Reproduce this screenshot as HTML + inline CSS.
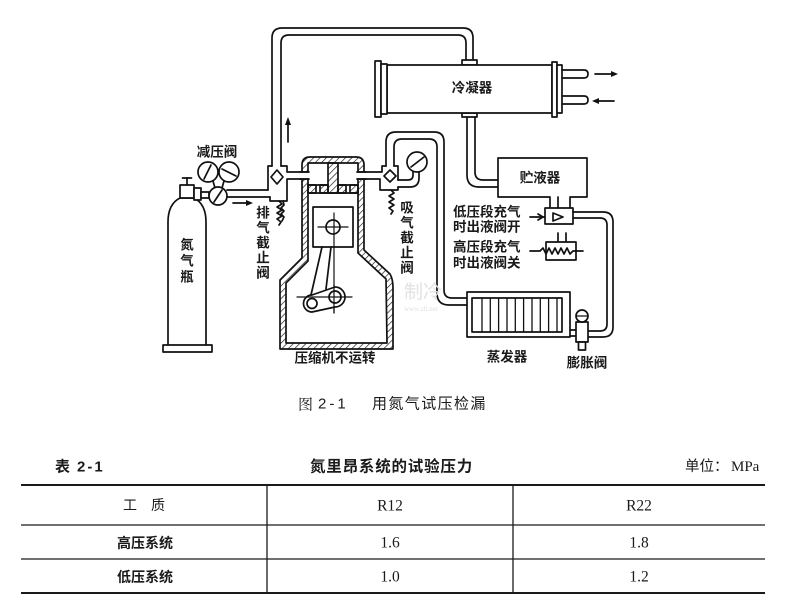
<!DOCTYPE html>
<html><head><meta charset="utf-8">
<style>
html,body{margin:0;padding:0;background:#fff;}
svg{display:block;}
.lb{font-family:"Liberation Sans","Noto Sans CJK SC",sans-serif;font-size:13.5px;font-weight:bold;fill:#1a1a1a;}
.cap{font-family:"Liberation Sans","Noto Sans CJK SC",sans-serif;font-size:15px;fill:#1a1a1a;}
.cell{font-family:"Liberation Sans","Noto Sans CJK SC",sans-serif;font-size:14px;fill:#1a1a1a;}
.num{font-family:"Liberation Serif","Noto Serif CJK SC",serif;font-size:15.5px;fill:#1a1a1a;}
</style></head>
<body>
<svg width="800" height="604" viewBox="0 0 800 604" xmlns="http://www.w3.org/2000/svg">
<defs>
<pattern id="h" width="4.5" height="4.5" patternUnits="userSpaceOnUse" patternTransform="rotate(45)">
<line x1="0" y1="0" x2="0" y2="4.5" stroke="#111" stroke-width="1.3"/>
</pattern>
</defs>
<rect width="800" height="604" fill="#fff"/>

<g fill="none" stroke="#111" stroke-width="1.7" stroke-linecap="round" stroke-linejoin="round">
<!-- Nitrogen cylinder -->
<path d="M168,345 V222 Q168,204 180,198 H194 Q206,204 206,222 V345" fill="#fff"/>
<rect x="163" y="345" width="49" height="7" fill="#fff"/>
<rect x="180" y="185" width="14" height="13" fill="#fff"/>
<line x1="187" y1="185" x2="187" y2="178"/>
<line x1="182.5" y1="178" x2="191.5" y2="178"/>
<rect x="194" y="188" width="7" height="12" fill="#fff"/>
<rect x="201" y="192" width="8" height="6" fill="#fff"/>
<!-- regulator + gauges -->
<line x1="213" y1="181" x2="215" y2="188"/>
<line x1="224" y1="181" x2="222" y2="188"/>
<circle cx="208" cy="172" r="10" fill="#fff"/>
<circle cx="229" cy="172" r="10" fill="#fff"/>
<circle cx="218" cy="196" r="9" fill="#fff"/>
<line x1="204" y1="179" x2="211" y2="165"/>
<line x1="222" y1="169" x2="236" y2="176"/>
<line x1="214" y1="202" x2="222" y2="190"/>
<!-- pipe regulator -> discharge valve -->
<line x1="227" y1="190" x2="268" y2="190"/>
<line x1="227" y1="197" x2="270" y2="197"/>
<line x1="233" y1="203" x2="247" y2="203"/>

<!-- discharge top pipe to condenser -->
<path d="M272,166 V38 Q272,28 282,28 H463 Q473,28 473,38 V60"/>
<path d="M281,166 V43 Q281,35 289,35 H458 Q466,35 466,43 V60"/>
<line x1="288" y1="142" x2="288" y2="123"/>

<!-- discharge valve body -->
<path d="M272,166 H268 V190"/>
<path d="M270,197 V201 H287 V179 H308"/>
<path d="M281,166 H287 V172 H308"/>
<polygon points="277,170 283,177 277,184 271,177" fill="#fff"/>
<path d="M279,201 l3,3 -5,3 5,3 -5,3 5,3 -5,3 4,3 -2,3"/>
<path d="M283,201 l1,4 -3,3 3,3 -3,3 3,3 -2,4"/>

<!-- suction loop -->
<path d="M386,166 V142 Q386,132 396,132 H434 Q444,132 444,142 V290 Q444,298 452,298 H467"/>
<path d="M394,166 V147 Q394,139 402,139 H429 Q437,139 437,147 V293 Q437,305 449,305 H467"/>

<!-- suction valve body -->
<path d="M386,166 H382 V172 H358"/>
<path d="M358,179 H380 V190 H398 V187"/>
<path d="M394,166 H398 V180"/>
<path d="M398,180 H408 Q413,180 413,175 V172"/>
<path d="M398,187 H410 Q419,187 419,178 V172"/>
<polygon points="390,170 396,176 390,182 384,176" fill="#fff"/>
<path d="M391,190 l3,3 -5,3 5,3 -5,3 5,3 -5,3 4,3 -2,3"/>
<circle cx="417" cy="162" r="10" fill="#fff"/>
<line x1="411" y1="167" x2="424" y2="157"/>

<!-- compressor walls -->
<path fill="url(#h)" fill-rule="evenodd" d="M302,165 Q302,157 310,157 L356,157 Q364,157 364,165 L364,250 L390,274 Q393,279 393,288 L393,349 L280,349 L280,280 L302,258 Z M308,163 L358,163 L358,253 L386,279 L387,343 L286,343 L286,283 L308,261 Z"/>
<rect x="328" y="163" width="10" height="30" fill="url(#h)"/>
<line x1="308" y1="185" x2="328" y2="185"/>
<line x1="338" y1="185" x2="358" y2="185"/>
<line x1="308" y1="193" x2="358" y2="193"/>
<rect x="308" y="185" width="8" height="8" fill="url(#h)"/>
<rect x="350" y="185" width="8" height="8" fill="url(#h)"/>
<rect x="320" y="185" width="8" height="8" fill="url(#h)"/>
<rect x="338" y="185" width="8" height="8" fill="url(#h)"/>
</g>
<!-- pipe openings in compressor wall -->
<rect x="300.5" y="172.8" width="9" height="5.4" fill="#fff"/>
<rect x="356.5" y="172.8" width="9" height="5.4" fill="#fff"/>
<g fill="none" stroke="#111" stroke-width="1.7" stroke-linecap="round" stroke-linejoin="round">
<line x1="300" y1="172" x2="309" y2="172"/>
<line x1="300" y1="179" x2="309" y2="179"/>
<line x1="357" y1="172" x2="366" y2="172"/>
<line x1="357" y1="179" x2="366" y2="179"/>
<!-- piston -->
<rect x="313" y="207" width="40" height="40" fill="#fff"/>
<circle cx="333" cy="227" r="7"/>
<line x1="318" y1="227" x2="348" y2="227" stroke-width="1.2"/>
<line x1="334" y1="213" x2="334" y2="313" stroke-width="1.2"/>
<!-- con rod -->
<line x1="322" y1="247" x2="311" y2="295"/>
<line x1="331" y1="247" x2="326" y2="289"/>
<!-- crank -->
<path d="M312,295 L335,287 A10,10 0 0 1 335,307 L312,312 A8.5,8.5 0 0 1 312,295 Z" fill="#fff"/>
<circle cx="335" cy="297" r="6"/>
<circle cx="312" cy="303.5" r="5"/>
<line x1="297" y1="297" x2="352" y2="297" stroke-width="1.2"/>
<line x1="334" y1="285" x2="334" y2="313" stroke-width="1.2"/>

<!-- condenser -->
<rect x="462" y="60" width="15" height="5" fill="#fff"/>
<rect x="462" y="113" width="15" height="4" fill="#fff"/>
<rect x="387" y="65" width="165" height="48" fill="#fff"/>
<rect x="375" y="61" width="6" height="56" fill="#fff"/>
<rect x="381" y="64" width="6" height="50" fill="#fff"/>
<rect x="552" y="62" width="5" height="55" fill="#fff"/>
<rect x="557" y="65" width="5" height="48" fill="#fff"/>
<path d="M562,70 H584 Q588,70 588,74 Q588,78 584,78 H562"/>
<path d="M562,96 H584 Q588,96 588,100 Q588,104 584,104 H562"/>
<line x1="595" y1="74" x2="612" y2="74"/>
<line x1="598" y1="101" x2="614" y2="101"/>

<!-- condenser -> receiver -->
<path d="M467,117 V175 Q467,187 479,187 H498"/>
<path d="M475,117 V172 Q475,180 483,180 H498"/>
<!-- receiver -->
<path d="M550,208 V197 H498 V158 H587 V197 H570 V208" fill="#fff"/>
<line x1="558" y1="197" x2="558" y2="208"/>
<!-- valve 1 (open) -->
<rect x="545" y="208" width="28" height="16" fill="#fff"/>
<line x1="530" y1="217" x2="545" y2="217"/>
<polygon points="553,213 563,217 553,221" fill="#fff"/>
<path d="M538,214 l5,3 -5,3"/>
<!-- liquid line -->
<path d="M573,212 H603 Q613,212 613,222 V327 Q613,337 603,337 H588"/>
<path d="M573,218 H600 Q607,218 607,225 V324 Q607,331 600,331 H588"/>
<!-- valve 2 (closed) -->
<line x1="558" y1="233" x2="558" y2="242"/>
<line x1="566" y1="233" x2="566" y2="242"/>
<rect x="546" y="242" width="30" height="18" fill="#fff"/>
<path d="M530,251 H540 l3,-3 3,6 3,-6 3,6 3,-6 3,6 3,-6 3,6 3,-6 3,6 3,-3 H583"/>
<!-- evaporator -->
<rect x="467" y="292" width="103" height="45" fill="#fff"/>
<rect x="472" y="298" width="90" height="34"/>
<g stroke-width="1.3">
<line x1="482" y1="298" x2="482" y2="332"/><line x1="490.3" y1="298" x2="490.3" y2="332"/>
<line x1="498.6" y1="298" x2="498.6" y2="332"/><line x1="507" y1="298" x2="507" y2="332"/>
<line x1="515.3" y1="298" x2="515.3" y2="332"/><line x1="523.6" y1="298" x2="523.6" y2="332"/>
<line x1="532" y1="298" x2="532" y2="332"/><line x1="540.3" y1="298" x2="540.3" y2="332"/>
<line x1="548.6" y1="298" x2="548.6" y2="332"/><line x1="557" y1="298" x2="557" y2="332"/>
</g>
<!-- expansion valve -->
<line x1="570" y1="330" x2="576" y2="330"/>
<line x1="570" y1="336" x2="576" y2="336"/>
<rect x="576" y="322" width="12" height="20" fill="#fff"/>
<ellipse cx="582" cy="316" rx="6" ry="6" fill="#fff"/>
<line x1="577" y1="316" x2="587" y2="316" stroke-width="1.2"/>
<rect x="578.5" y="342" width="7" height="8" fill="#fff"/>
</g>
<!-- arrowheads -->
<g fill="#111">
<polygon points="253,203 246,200 246,206"/>
<polygon points="288,117 285,125 291,125"/>
<polygon points="618,74 611,71 611,77"/>
<polygon points="592,101 599,98 599,104"/>
</g>

<!-- watermark -->
<text x="404" y="298" font-family="'Noto Sans CJK SC',sans-serif" font-size="19" fill="#e2e2e2">制冷</text>
<text x="404" y="311" font-family="'Liberation Serif',serif" font-size="7" fill="#e0e0e0">www.zlt.net</text>

<!-- diagram labels -->
<g class="lb" text-anchor="middle" dominant-baseline="central">
<text x="217" y="152">减压阀</text>
<text x="187" y="245">氮</text><text x="187" y="261">气</text><text x="187" y="277">瓶</text>
<text x="263" y="213">排</text><text x="263" y="228">气</text><text x="263" y="243">截</text><text x="263" y="258">止</text><text x="263" y="273">阀</text>
<text x="407" y="208">吸</text><text x="407" y="223">气</text><text x="407" y="238">截</text><text x="407" y="253">止</text><text x="407" y="268">阀</text>
<text x="335" y="358">压缩机不运转</text>
<text x="472" y="88">冷凝器</text>
<text x="540" y="178">贮液器</text>
<text x="507" y="357">蒸发器</text>
<text x="587" y="363">膨胀阀</text>
</g>
<g class="lb" dominant-baseline="central">
<text x="453" y="212">低压段充气</text>
<text x="453" y="227">时出液阀开</text>
<text x="453" y="247">高压段充气</text>
<text x="453" y="263">时出液阀关</text>
</g>

<!-- caption -->
<g dominant-baseline="central">
<text x="298" y="404" class="cap" style="font-family:'Noto Serif CJK SC',serif">图</text>
<text x="318" y="404" class="cap" style="font-family:'Liberation Sans',sans-serif;letter-spacing:3px">2-1</text>
<text x="372" y="404" class="cap" style="letter-spacing:1.4px">用氮气试压检漏</text>

<text x="55" y="467" class="cap" style="font-weight:bold">表</text>
<text x="77" y="467" class="cap" style="font-family:'Liberation Sans',sans-serif;font-weight:bold;letter-spacing:2px">2-1</text>
<text x="310" y="467" class="cap" style="font-weight:bold;font-size:15.5px;letter-spacing:0.8px">氮里昂系统的试验压力</text>
<text x="685" y="467" class="cap" style="font-size:14.5px">单位：</text>
<text x="731" y="467" class="num" style="font-size:15px">MPa</text>
</g>

<!-- table -->
<g stroke="#1a1a1a">
<line x1="21" y1="485" x2="765" y2="485" stroke-width="2"/>
<line x1="21" y1="525" x2="765" y2="525" stroke-width="1.3"/>
<line x1="21" y1="559" x2="765" y2="559" stroke-width="1.3"/>
<line x1="21" y1="593" x2="765" y2="593" stroke-width="2"/>
<line x1="267" y1="485" x2="267" y2="593" stroke-width="1.3"/>
<line x1="513" y1="485" x2="513" y2="593" stroke-width="1.3"/>
</g>
<g text-anchor="middle" dominant-baseline="central">
<text x="130" y="505" class="cell">工</text>
<text x="158" y="505" class="cell">质</text>
<text x="390" y="506" class="num">R12</text>
<text x="639" y="506" class="num">R22</text>
<text x="145" y="543" class="cell" style="font-weight:bold">高压系统</text>
<text x="390" y="543" class="num">1.6</text>
<text x="639" y="543" class="num">1.8</text>
<text x="145" y="577" class="cell" style="font-weight:bold">低压系统</text>
<text x="390" y="577" class="num">1.0</text>
<text x="639" y="577" class="num">1.2</text>
</g>
</svg>
</body></html>
